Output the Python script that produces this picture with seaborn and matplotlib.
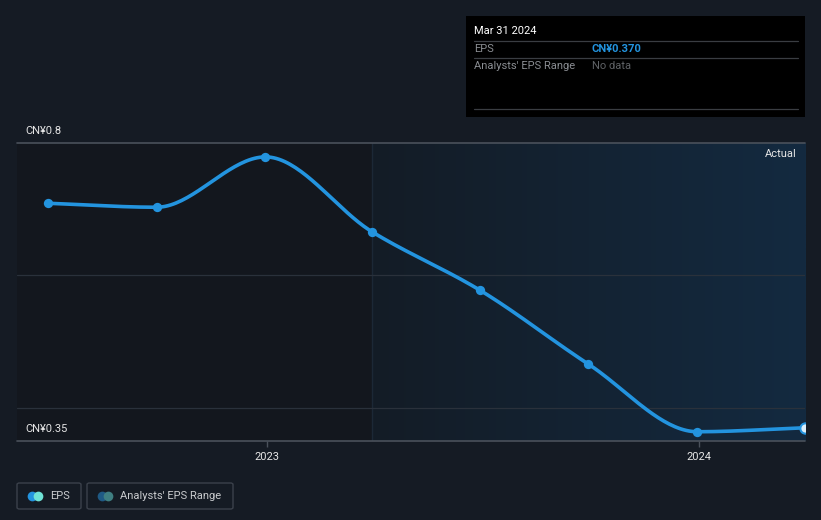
import numpy as np
import pandas as pd
import matplotlib
matplotlib.use("Agg")
import matplotlib.pyplot as plt
import matplotlib.dates as mdates
from matplotlib.patches import FancyBboxPatch, Rectangle
from matplotlib.colors import LinearSegmentedColormap
import seaborn as sns

dates = ["2022-06-30", "2022-09-30", "2022-12-31", "2023-03-31",
         "2023-06-30", "2023-09-30", "2023-12-31", "2024-03-31"]
eps = [0.709, 0.703, 0.779, 0.666, 0.578, 0.466, 0.364, 0.370]
ytick_vals = [0.35, 0.8]
ytick_labels = ["CN¥0.35", "CN¥0.8"]
grid_vals = [0.4, 0.6]
xtick_dates = ["2023-01-01", "2024-01-01"]
xtick_labels = ["2023", "2024"]

BG = "#151b24"
LEFT_BG = "#13171e"
BLUE = "#2394df"

sns.set_theme(style="dark")
plt.rcParams["font.family"] = ["Roboto", "DejaVu Sans"]

df = pd.DataFrame({"date": pd.to_datetime(dates), "eps": eps})

fig = plt.figure(figsize=(8.21, 5.2), dpi=100, facecolor=BG)
W, H = 821, 520
x0, x1, ytop, ybot = 17, 805, 143, 441
ax = fig.add_axes([x0 / W, (H - ybot) / H, (x1 - x0) / W, (ybot - ytop) / H])
ax.set_facecolor(LEFT_BG)

xmin = mdates.date2num(pd.Timestamp("2022-06-04"))
xmax = mdates.date2num(pd.Timestamp("2024-03-31"))

# shaded "actual" region with gradient
split = mdates.date2num(pd.Timestamp("2023-03-31"))
grad = np.linspace(0, 1, 256).reshape(1, -1)
cmap = LinearSegmentedColormap.from_list("g", ["#141c26", "#132a40"])
ax.imshow(grad, extent=[split, xmax, 0.35, 0.8], aspect="auto", cmap=cmap,
          zorder=0, origin="lower", interpolation="bilinear")
ax.axvline(split, color="#1c2836", lw=1, zorder=1)

# grid
for g in grid_vals:
    ax.axhline(g, color="#2a313b", lw=0.9, zorder=1)
ax.axhline(0.8, color="#4a515b", lw=1.2, zorder=1, clip_on=False)
ax.axhline(0.35, color="#4a515b", lw=1.2, zorder=1, clip_on=False)

# smooth monotone curve
xn = mdates.date2num(df["date"])
y = np.array(eps)
n = len(xn)
h = np.diff(xn)
d = np.diff(y) / h
m = np.zeros(n)
m[0] = d[0]
m[-1] = d[-1]
for i in range(1, n - 1):
    if d[i - 1] * d[i] <= 0:
        m[i] = 0
    else:
        w1 = 2 * h[i] + h[i - 1]
        w2 = h[i] + 2 * h[i - 1]
        m[i] = (w1 + w2) / (w1 / d[i - 1] + w2 / d[i])
xs, ys = [], []
for i in range(n - 1):
    t = np.linspace(0, 1, 40)
    h00 = 2 * t**3 - 3 * t**2 + 1
    h10 = t**3 - 2 * t**2 + t
    h01 = -2 * t**3 + 3 * t**2
    h11 = t**3 - t**2
    xs.append(xn[i] + t * h[i])
    ys.append(h00 * y[i] + h10 * h[i] * m[i] + h01 * y[i + 1] + h11 * h[i] * m[i + 1])
curve = pd.DataFrame({"x": np.concatenate(xs), "y": np.concatenate(ys)})
sns.lineplot(data=curve, x="x", y="y", ax=ax, color=BLUE, lw=2.6, zorder=3,
             sort=False, estimator=None)

df["xn"] = xn
sns.scatterplot(data=df.iloc[:-1], x="xn", y="eps", ax=ax, color=BLUE, s=45,
                edgecolor=BLUE, linewidth=0, zorder=4)
sns.scatterplot(data=df.iloc[-1:], x="xn", y="eps", ax=ax, color="#dbeefa", s=55,
                edgecolor=BLUE, linewidth=1.5, zorder=5)

ax.set_xlim(xmin, xmax)
ax.set_ylim(0.35, 0.8)
ax.set_xlabel("")
ax.set_ylabel("")
ax.set_yticks([])
ax.set_xticks(mdates.date2num(pd.to_datetime(xtick_dates)))
ax.set_xticklabels(xtick_labels, color="#e6e6e6", fontsize=8)
ax.tick_params(axis="x", length=4, color="#4a515b", width=1, pad=4, bottom=True)
for s in ax.spines.values():
    s.set_visible(False)
ax.grid(False)

# y labels
for v, lab in zip(ytick_vals, ytick_labels):
    yp = ybot if v == 0.35 else ytop
    fig.text(25 / W, (H - yp + 7) / H, lab, color="#e6e6e6", fontsize=8,
             va="bottom", ha="left")

fig.text(797 / W, (H - 154) / H, "Actual", color="#e6e6e6", fontsize=8,
         ha="right", va="center")

# tooltip box
fig.patches.append(Rectangle((466 / W, (H - 117) / H), (805 - 466) / W, 101 / H,
                             transform=fig.transFigure, facecolor="#000000",
                             edgecolor="none", zorder=10))
fig.text(474 / W, (H - 31) / H, "Mar 31 2024", color="#ffffff", fontsize=8,
         va="center", zorder=11)
for ly in [41, 58, 109]:
    fig.add_artist(plt.Line2D([474 / W, 798 / W], [(H - ly) / H, (H - ly) / H],
                              color="#3a3d42", lw=0.9, zorder=11))
fig.text(474 / W, (H - 49) / H, "EPS", color="#8a8d92", fontsize=8, va="center", zorder=11)
fig.text(592 / W, (H - 49) / H, "CN¥0.370", color=BLUE, fontsize=8, va="center",
         fontweight="bold", zorder=11)
fig.text(474 / W, (H - 66) / H, "Analysts' EPS Range", color="#8a8d92", fontsize=8,
         va="center", zorder=11)
fig.text(592 / W, (H - 66) / H, "No data", color="#5f6266", fontsize=8, va="center",
         zorder=11)

# legend boxes
def legbox(xa, xb, label, c1, c2):
    fig.patches.append(FancyBboxPatch((xa / W, (H - 509) / H), (xb - xa) / W, 26 / H,
                                      boxstyle="round,pad=0,rounding_size=0.003",
                                      transform=fig.transFigure, facecolor="none",
                                      edgecolor="#3b414b", lw=1))
    fig.add_artist(plt.Line2D([(xa + 15) / W], [(H - 496) / H], marker="o",
                              markersize=7, color=c1, markeredgewidth=0, zorder=5))
    fig.add_artist(plt.Line2D([(xa + 21) / W], [(H - 496) / H], marker="o",
                              markersize=7, color=c2, markeredgewidth=0, zorder=6))
    fig.text((xa + 33) / W, (H - 496) / H, label, color="#c9cbce", fontsize=8,
             va="center")

legbox(17, 81, "EPS", BLUE, "#6fe3d6")
legbox(87, 233, "Analysts' EPS Range", "#1f5a85", "#3f7f82")

fig.savefig("out.png", dpi=100, facecolor=BG)
